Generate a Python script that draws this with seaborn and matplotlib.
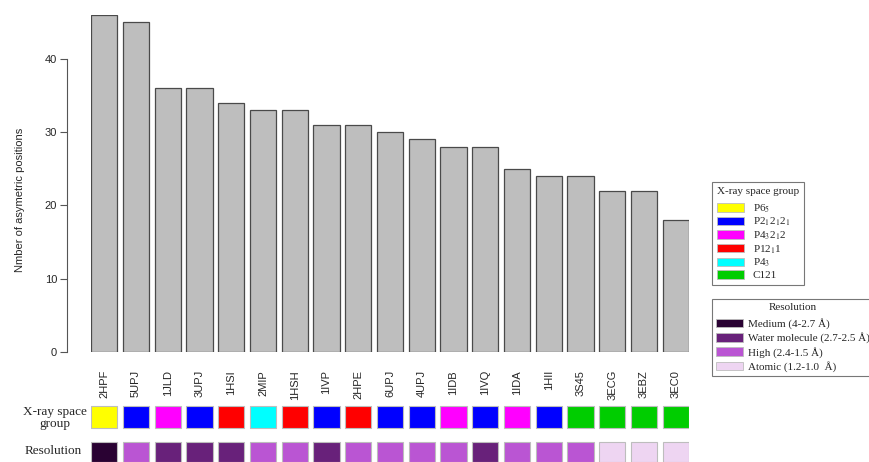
"""
Bar chart of asymmetric positions per PDB structure, with space group / resolution tiles.
Output: out.png (870x462)
"""

import numpy as np
import pandas as pd
import matplotlib
matplotlib.use("Agg")
import matplotlib.pyplot as plt
from matplotlib.patches import Patch
import seaborn as sns

# ---- data ----
structures = ["2HPF", "5UPJ", "1JLD", "3UPJ", "1HSI", "2MIP", "1HSH", "1IVP", "2HPE", "6UPJ",
              "4UPJ", "1IDB", "1IVQ", "1IDA", "1HII", "3S45", "3ECG", "3EBZ", "3EC0"]
n_positions = [46, 45, 36, 36, 34, 33, 33, 31, 31, 30, 29, 28, 28, 25, 24, 24, 22, 22, 18]
space_group = ["P65", "P212121", "P43212", "P212121", "P1211", "P43", "P1211", "P212121", "P1211",
               "P212121", "P212121", "P43212", "P212121", "P43212", "P212121", "C121", "C121",
               "C121", "C121"]
resolution = ["Medium", "High", "Water", "Water", "Water", "High", "High", "Water", "High", "High",
              "High", "High", "Water", "High", "High", "High", "Atomic", "Atomic", "Atomic"]

sg_order = ["P65", "P212121", "P43212", "P1211", "P43", "C121"]
sg_labels = ["P6$_5$", "P2$_1$2$_1$2$_1$", "P4$_3$2$_1$2", "P12$_1$1", "P4$_3$", "C121"]
res_order = ["Medium", "Water", "High", "Atomic"]
res_labels = ["Medium (4-2.7 Å)", "Water molecule (2.7-2.5 Å)", "High (2.4-1.5 Å)",
              "Atomic (1.2-1.0  Å)"]

SG_COLORS = {"P65": "#FFFF00", "P212121": "#0000FF", "P43212": "#FF00FF",
             "P1211": "#FF0000", "P43": "#00FFFF", "C121": "#00CD00"}
RES_COLORS = {"Medium": "#2A0233", "Water": "#68217A", "High": "#BA55D3", "Atomic": "#EED5F2"}

sns.set_style("white")
plt.rcParams["font.family"] = ["Liberation Sans", "DejaVu Sans"]
plt.rcParams["mathtext.fontset"] = "stix"

W, H = 870, 462
fig = plt.figure(figsize=(W / 100, H / 100), dpi=100)


def fx(px):
    return px / W


def fy(px):
    return 1 - px / H


# ---- main bar chart ----
ax = fig.add_axes([fx(91), fy(352), fx(689) - fx(91), fy(14.8) - fy(352)])
df = pd.DataFrame({"structure": structures, "n": n_positions})
sns.barplot(data=df, x="structure", y="n", color="#BEBEBE", saturation=1, width=1 / 1.2,
            edgecolor="#4a4a4a", linewidth=0.9, ax=ax)
ax.set_xlim(-0.5 / 1.2, len(structures) - 1 + 0.5 / 1.2)
ax.set_ylim(0, 46)
ax.set_yticks([0, 10, 20, 30, 40])
ax.spines[["top", "right", "bottom"]].set_visible(False)
ax.spines["left"].set_position(("outward", 17.3))
ax.spines["left"].set_bounds(0, 40)
ax.spines["left"].set_color("#555555")
ax.spines["left"].set_linewidth(0.8)
ax.tick_params(axis="y", left=True, length=5, width=0.8, color="#555555", pad=2, labelsize=8)
ax.tick_params(axis="x", length=0, pad=13, labelsize=8, rotation=90)
ax.set_xlabel("")
ax.set_ylabel("Nmber of asymetric positions", fontsize=8)
ax.yaxis.set_label_coords((25 - 91) / 598, (352 - 200) / 337.2)

# ---- tile rows ----
tax = fig.add_axes([fx(91), 0, fx(689) - fx(91), fy(405)])
x = np.arange(len(structures))
tax.bar(x, 22, bottom=34, width=1 / 1.2, color=[SG_COLORS[s] for s in space_group],
        edgecolor="#bdbdbd", linewidth=0.8)
tax.bar(x, 20, bottom=0.5, width=1 / 1.2, color=[RES_COLORS[r] for r in resolution],
        edgecolor="#bdbdbd", linewidth=0.8)
tax.set_xlim(ax.get_xlim())
tax.set_ylim(0, 57)
tax.axis("off")

fig.text(fx(55), fy(418), "X-ray space\ngroup", family=["Liberation Serif"], fontsize=9.5,
         ha="center", va="center", linespacing=0.95)
fig.text(fx(53), fy(451), "Resolution", family=["Liberation Serif"], fontsize=9.5,
         ha="center", va="center")

# ---- legends ----
sg_handles = [Patch(facecolor=SG_COLORS[k], edgecolor="#bdbdbd", linewidth=0.6) for k in sg_order]
leg1 = fig.legend(sg_handles, sg_labels, title="X-ray space group", loc="upper left",
                  bbox_to_anchor=(fx(712), fy(182)), frameon=True, fancybox=False,
                  prop={"family": "Liberation Serif", "size": 8},
                  title_fontproperties={"family": "Liberation Serif", "size": 8},
                  handlelength=2.4, handleheight=0.8, labelspacing=0.1, handletextpad=0.8,
                  borderpad=0.45, borderaxespad=0, alignment="left")
leg1.get_frame().set_edgecolor("#555555")
leg1.get_frame().set_linewidth(0.8)
leg1._legend_box.sep = 4.5

res_handles = [Patch(facecolor=RES_COLORS[k], edgecolor="#bdbdbd", linewidth=0.6) for k in res_order]
leg2 = fig.legend(res_handles, res_labels, title="Resolution", loc="upper left",
                  bbox_to_anchor=(fx(712), fy(299)), frameon=True, fancybox=False,
                  prop={"family": "Liberation Serif", "size": 8},
                  title_fontproperties={"family": "Liberation Serif", "size": 8},
                  handlelength=2.4, handleheight=0.8, labelspacing=0.3, handletextpad=0.5,
                  borderpad=0.35, borderaxespad=0)
leg2.get_frame().set_edgecolor("#555555")
leg2.get_frame().set_linewidth(0.8)
leg2._legend_box.sep = 4.5

fig.savefig("out.png", dpi=100)
plt.close(fig)
